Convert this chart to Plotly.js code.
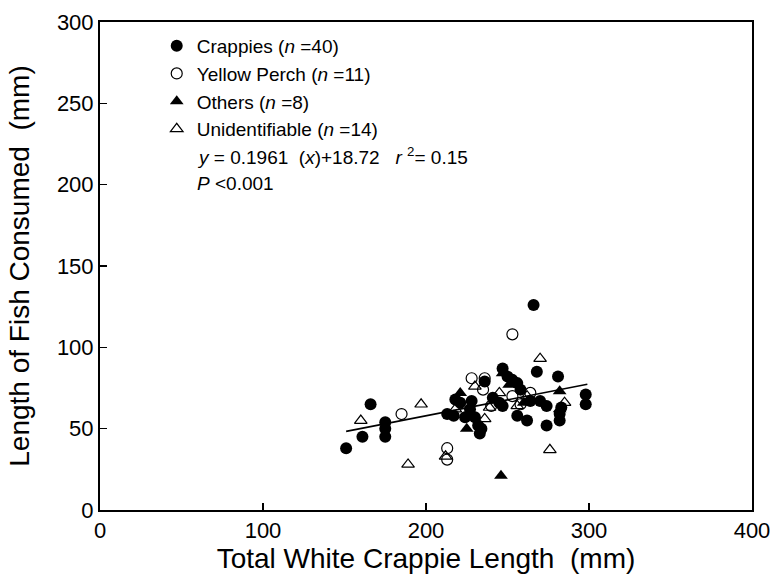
<!DOCTYPE html>
<html>
<head>
<meta charset="utf-8">
<script src="https://cdn.plot.ly/plotly-3.0.1.min.js"></script>
<style>html,body{margin:0;padding:0;background:#fff;}#chart{width:772px;height:576px;}</style>
</head>
<body>
<div id="chart"></div>
<script>
// Crappies (filled circles)
const crappieX = [151,161,166,175,175,175,213,217,218,224,228,232,233,234,236,241,245,247,250,253,256,256,262,266,268,270,274,274,281,283,282,282,298,298,221,227,258,264,247,230];
const crappieY = [38,45,65,54,50,45,59,58,68,57,67,52,47,50,79,69,66,87,82,80,78,58,55,126,85,67,64,52,82,63,59,55,71,65,66,62,74,67,64,57];
// Yellow Perch (open circles)
const perchX = [185,228,236,235,253,264,213,253,240,258,213];
const perchY = [59,81,81,74,70,72,38,108,64,65,31];
// Others (filled triangles)
const othersX = [221,225,246,247,251,260,282,282];
const othersY = [72,50,21,84,77,66,73,62];
// Unidentifiable (open triangles)
const unidX = [160,189,197,270,276,239,256,230,245,262,218,285,212,236];
const unidY = [55,28,65,93,37,63,64,76,72,70,62,66,33,56];
// Regression y = 0.1961 x + 18.72
const slope = 0.1961, intercept = 18.72;
const fitX = [151, 299];
const fitY = fitX.map(x => slope * x + intercept);

const font = "Liberation Sans, Arial, Helvetica, sans-serif";
const traces = [
  {x: fitX, y: fitY, mode: 'lines', line: {color: '#000', width: 1.6}, showlegend: false, hoverinfo: 'skip'},
  {x: crappieX, y: crappieY, mode: 'markers', name: 'Crappies (<i>n</i> =40)',
   marker: {symbol: 'circle', size: 12, color: '#000'}},
  {x: perchX, y: perchY, mode: 'markers', name: 'Yellow Perch (<i>n</i> =11)',
   marker: {symbol: 'circle-open', size: 11, color: '#000', line: {width: 1.2}}},
  {x: othersX, y: othersY, mode: 'markers', name: 'Others (<i>n</i> =8)',
   marker: {symbol: 'triangle-up', size: 12, color: '#000'}},
  {x: unidX, y: unidY, mode: 'markers', name: 'Unidentifiable (<i>n</i> =14)',
   marker: {symbol: 'triangle-up-open', size: 11, color: '#000', line: {width: 1.2}}}
];

const layout = {
  width: 772, height: 576,
  margin: {l: 100, r: 20, t: 22, b: 66},
  paper_bgcolor: '#fff', plot_bgcolor: '#fff',
  font: {family: font, color: '#000', size: 22},
  showlegend: true,
  legend: {x: 0.087, y: 0.99, xanchor: 'left', yanchor: 'top', bgcolor: 'rgba(0,0,0,0)',
           font: {family: font, size: 19, color: '#000'}, itemclick: false},
  xaxis: {range: [0, 400], tickvals: [0,100,200,300,400], ticks: 'inside', ticklen: 7, tickwidth: 1.5,
          tickcolor: '#000', showline: true, linewidth: 2, linecolor: '#000', mirror: true,
          showgrid: false, zeroline: false, tickfont: {size: 22},
          title: {text: 'Total White Crappie Length  (mm)', font: {size: 28}, standoff: 6}},
  yaxis: {range: [0, 300], tickvals: [0,50,100,150,200,250,300], ticks: 'inside', ticklen: 7, tickwidth: 1.5,
          tickcolor: '#000', showline: true, linewidth: 2, linecolor: '#000', mirror: true,
          showgrid: false, zeroline: false, tickfont: {size: 22},
          title: {text: 'Length of Fish Consumed  (mm)', font: {size: 28}, standoff: 19}},
  annotations: [
    {xref: 'paper', yref: 'paper', x: 0.145, y: 0.7254, xanchor: 'left', yanchor: 'middle', showarrow: false,
     text: '<i>y</i> = 0.1961  (<i>x</i>)+18.72   <i>r</i> <sup>2</sup>= 0.15', font: {size: 19}},
    {xref: 'paper', yref: 'paper', x: 0.145, y: 0.670, xanchor: 'left', yanchor: 'middle', showarrow: false,
     text: '<i>P</i> <0.001', font: {size: 19}}
  ]
};
Plotly.newPlot('chart', traces, layout, {displayModeBar: false, staticPlot: true});
</script>
</body>
</html>
